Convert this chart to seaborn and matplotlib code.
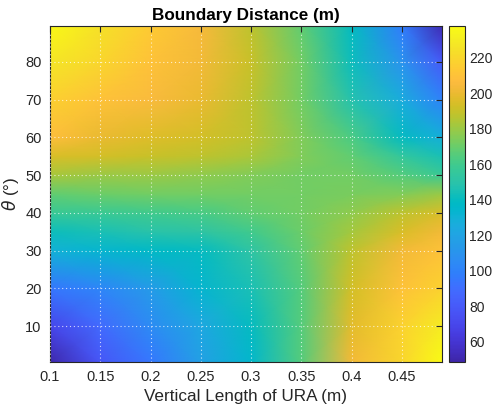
import numpy as np
import pandas as pd
import matplotlib
matplotlib.use("Agg")
import matplotlib.pyplot as plt
import seaborn as sns

# ---- data ----
vertical_length = [0.10, 0.15, 0.20, 0.25, 0.30, 0.35, 0.40, 0.45, 0.49]
theta = [0.5, 10, 20, 30, 35, 40, 45, 50, 55, 60, 70, 80, 89.5]
dist_t01 = [50, 78, 95, 118, 135, 165, 203, 220, 238]
dist_t10 = [70, 88, 105, 122, 140, 165, 198, 218, 230]
dist_t20 = [95, 102, 115, 133, 145, 165, 193, 210, 218]
dist_t30 = [130, 133, 138, 140, 152, 168, 188, 203, 210]
dist_t35 = [142, 145, 150, 152, 160, 170, 182, 195, 203]
dist_t40 = [157, 158, 160, 162, 168, 172, 178, 188, 195]
dist_t45 = [168, 170, 172, 172, 172, 172, 173, 175, 180]
dist_t50 = [183, 180, 180, 178, 175, 172, 172, 165, 158]
dist_t55 = [195, 193, 190, 188, 184, 175, 168, 155, 145]
dist_t60 = [208, 200, 196, 193, 188, 175, 163, 140, 128]
dist_t70 = [217, 210, 205, 200, 188, 172, 148, 126, 100]
dist_t80 = [227, 220, 210, 203, 190, 172, 142, 110, 80]
dist_t89 = [237, 225, 214, 204, 188, 168, 140, 98, 52]
x_ticks = [0.1, 0.15, 0.2, 0.25, 0.3, 0.35, 0.4, 0.45]
x_tick_labels = ["0.1", "0.15", "0.2", "0.25", "0.3", "0.35", "0.4", "0.45"]
y_ticks = [10, 20, 30, 40, 50, 60, 70, 80]
cbar_ticks = [60, 80, 100, 120, 140, 160, 180, 200, 220]

rows = [dist_t01, dist_t10, dist_t20, dist_t30, dist_t35, dist_t40, dist_t45,
        dist_t50, dist_t55, dist_t60, dist_t70, dist_t80, dist_t89]
df = pd.DataFrame(rows, index=theta, columns=vertical_length)

# MATLAB parula colormap
_parula = [
    [0.2422, 0.1504, 0.6603], [0.2504, 0.1650, 0.7076], [0.2578, 0.1818, 0.7511],
    [0.2647, 0.1978, 0.7952], [0.2706, 0.2147, 0.8364], [0.2751, 0.2342, 0.8710],
    [0.2783, 0.2559, 0.8991], [0.2803, 0.2782, 0.9221], [0.2813, 0.3006, 0.9414],
    [0.2810, 0.3228, 0.9579], [0.2795, 0.3447, 0.9717], [0.2760, 0.3667, 0.9829],
    [0.2699, 0.3892, 0.9906], [0.2602, 0.4123, 0.9952], [0.2440, 0.4358, 0.9988],
    [0.2206, 0.4603, 0.9973], [0.1963, 0.4847, 0.9892], [0.1834, 0.5074, 0.9798],
    [0.1786, 0.5289, 0.9682], [0.1764, 0.5499, 0.9520], [0.1687, 0.5703, 0.9359],
    [0.1540, 0.5902, 0.9218], [0.1460, 0.6091, 0.9079], [0.1380, 0.6276, 0.8973],
    [0.1248, 0.6459, 0.8883], [0.1113, 0.6635, 0.8763], [0.0952, 0.6798, 0.8598],
    [0.0689, 0.6948, 0.8394], [0.0297, 0.7082, 0.8163], [0.0036, 0.7203, 0.7917],
    [0.0067, 0.7312, 0.7660], [0.0433, 0.7411, 0.7394], [0.0964, 0.7500, 0.7120],
    [0.1408, 0.7584, 0.6842], [0.1717, 0.7670, 0.6554], [0.1938, 0.7758, 0.6251],
    [0.2161, 0.7843, 0.5923], [0.2470, 0.7918, 0.5567], [0.2906, 0.7973, 0.5188],
    [0.3406, 0.8008, 0.4789], [0.3909, 0.8029, 0.4354], [0.4456, 0.8024, 0.3909],
    [0.5044, 0.7993, 0.3480], [0.5616, 0.7942, 0.3045], [0.6174, 0.7876, 0.2612],
    [0.6720, 0.7793, 0.2227], [0.7242, 0.7698, 0.1910], [0.7738, 0.7598, 0.1646],
    [0.8203, 0.7498, 0.1535], [0.8634, 0.7406, 0.1596], [0.9035, 0.7330, 0.1774],
    [0.9393, 0.7288, 0.2100], [0.9728, 0.7298, 0.2394], [0.9956, 0.7434, 0.2371],
    [0.9970, 0.7659, 0.2199], [0.9952, 0.7893, 0.2028], [0.9892, 0.8136, 0.1885],
    [0.9786, 0.8386, 0.1766], [0.9676, 0.8639, 0.1643], [0.9610, 0.8890, 0.1537],
    [0.9597, 0.9135, 0.1423], [0.9628, 0.9373, 0.1265], [0.9691, 0.9606, 0.1064],
    [0.9769, 0.9839, 0.0805]]
parula = matplotlib.colors.LinearSegmentedColormap.from_list("parula", _parula, N=256)

sns.set_theme(style="white")
plt.rcParams["font.family"] = ["Liberation Sans", "DejaVu Sans"]
plt.rcParams["mathtext.fontset"] = "dejavusans"

dark = (0.15, 0.15, 0.15)
fig = plt.figure(figsize=(4.92, 4.09), dpi=100)
ax = fig.add_axes([50 / 492, 1 - 362 / 409, 392 / 492, 336 / 409])
cax = fig.add_axes([449 / 492, 1 - 362 / 409, 16 / 492, 336 / 409])

X, Y = np.meshgrid(df.columns.values.astype(float), df.index.values.astype(float))
mesh = ax.pcolormesh(X, Y, df.values, cmap=parula, shading="gouraud",
                     vmin=48.7, vmax=238, rasterized=True)

ax.set_xlim(0.1, 0.49)
ax.set_ylim(0.5, 89.5)
ax.set_xticks(x_ticks)
ax.set_xticklabels(x_tick_labels)
ax.set_yticks(y_ticks)
ax.grid(True, color="white", linestyle=(0, (1, 2.5)), linewidth=0.8, alpha=0.75)
ax.set_axisbelow(False)
ax.tick_params(direction="in", length=4, width=0.8, colors=dark, labelsize=10.5,
               top=True, right=True, labelcolor=dark, pad=6)
for s in ax.spines.values():
    s.set_color(dark)
    s.set_linewidth(0.8)

ax.set_title("Boundary Distance (m)", fontsize=12.3, fontweight="bold", color="black", pad=4)
ax.set_xlabel("Vertical Length of URA (m)", fontsize=12.3, color=dark, labelpad=3)
ax.set_ylabel(r"$\theta$ (°)", fontsize=12.3, color=dark, labelpad=3)

cb = fig.colorbar(mesh, cax=cax)
cb.set_ticks(cbar_ticks)
cb.ax.tick_params(direction="in", length=4, width=0.8, colors=dark, labelsize=10,
                  labelcolor=dark, pad=3)
cb.outline.set_edgecolor(dark)
cb.outline.set_linewidth(0.8)

fig.savefig("out.png", dpi=100)
